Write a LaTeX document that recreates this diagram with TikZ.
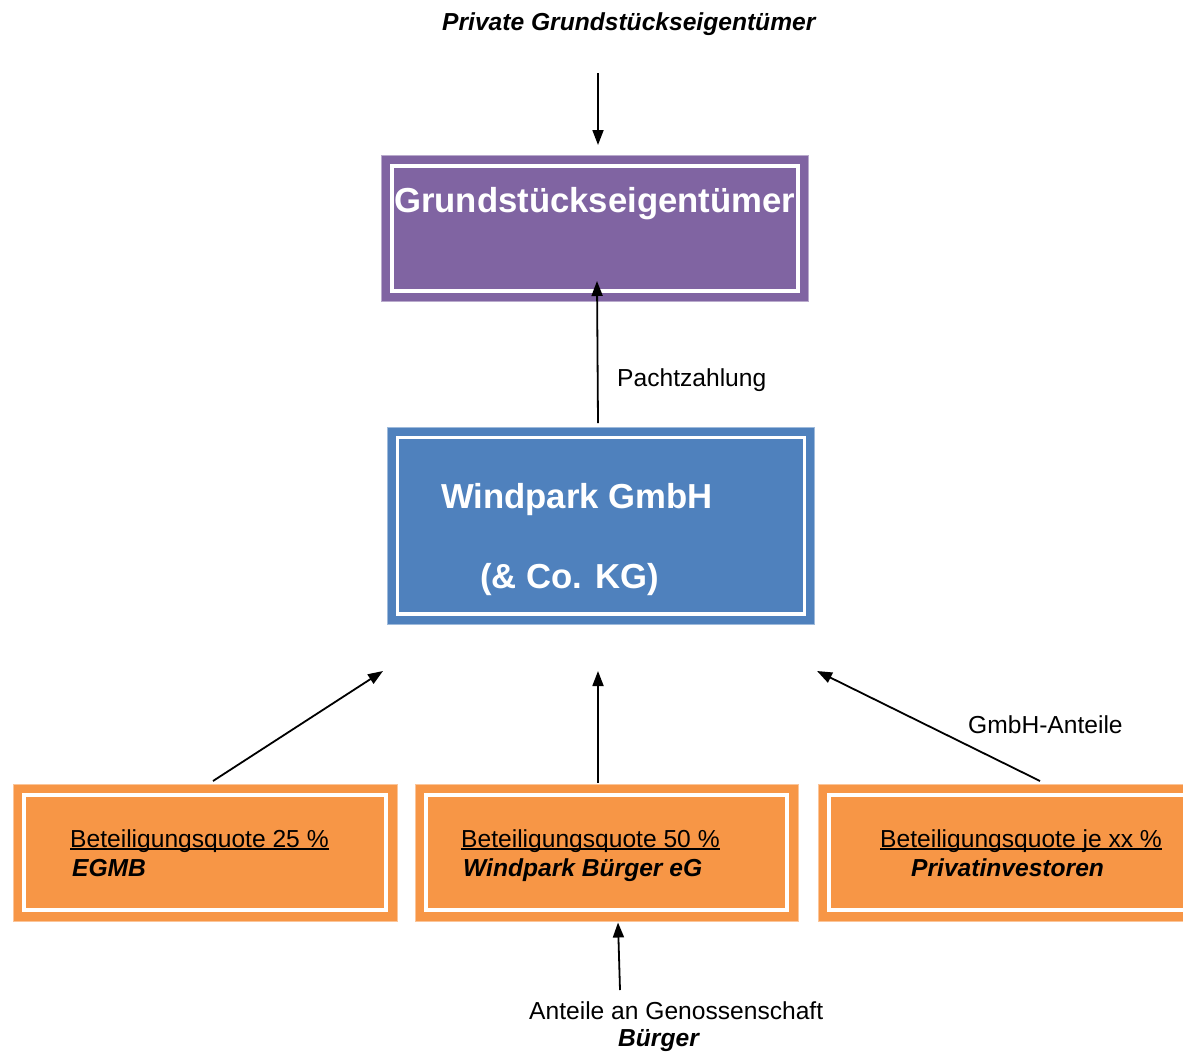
\documentclass[tikz,border=0pt]{standalone}
\usepackage{fontspec}
\setmainfont{Liberation Sans}
\usetikzlibrary{arrows.meta}
\definecolor{purp}{HTML}{8064A2}
\definecolor{blu}{HTML}{4F81BD}
\definecolor{ora}{HTML}{F79646}
\newcommand\myul[1]{\setbox0\hbox{#1}\rlap{\rule[-2.8pt]{\wd0}{1.5pt}}\box0}
\begin{document}
\begin{tikzpicture}[x=1pt,y=-1pt,
  outerbox/.style={draw=#1!55!white, line width=1pt, fill=#1, inner sep=0pt, outer sep=0pt},
  txt/.style={inner sep=0pt, anchor=base west, font=\fontsize{24.6}{28}\selectfont},
  bigtxt/.style={inner sep=0pt, anchor=base west, text=white, font=\fontsize{34.7}{40}\selectfont\bfseries},
  arr/.style={line width=1.8pt, -{Triangle[length=15pt,width=11pt]}},
  frame/.style={draw=white, line width=3.5pt}]
\useasboundingbox (0,0) rectangle (1183,1052);
\clip (0,0) rectangle (1183,1052);

% boxes
\node[outerbox=purp, minimum width=427pt, minimum height=146pt] (p) at (594.5,228) {};
\draw[frame] ([shift={(11,11)}]p.north west) rectangle ([shift={(-10,-10)}]p.south east);
\node[outerbox=blu, minimum width=427pt, minimum height=197pt] (b) at (600.5,525.5) {};
\draw[frame] ([shift={(10.5,10.5)}]b.north west) rectangle ([shift={(-9.5,-10)}]b.south east);
\node[outerbox=ora, minimum width=384pt, minimum height=137pt] (o1) at (205,852.5) {};
\draw[frame] ([shift={(11,11)}]o1.north west) rectangle ([shift={(-11,-11)}]o1.south east);
\node[outerbox=ora, minimum width=383pt, minimum height=137pt] (o2) at (606.5,852.5) {};
\draw[frame] ([shift={(11,11)}]o2.north west) rectangle ([shift={(-11,-11)}]o2.south east);
\node[outerbox=ora, minimum width=384pt, minimum height=137pt] (o3) at (1010,852.5) {};
\draw[frame] ([shift={(11,11)}]o3.north west) rectangle ([shift={(-11,-11)}]o3.south east);

% box texts
\node[bigtxt] (ptxt) at (394,212) {Grundstückseigentümer};
\node[bigtxt] (btxt1) at (441,508) {Windpark GmbH};
\node[bigtxt] (btxt2) at (480,588) {(\& Co. KG)};
\node[txt] (o1a) at (70,847) {\myul{Beteiligungsquote 25 \%}};
\node[txt] (o1b) at (72,876) {\bfseries\itshape EGMB};
\node[txt] (o2a) at (461,847) {\myul{Beteiligungsquote 50 \%}};
\node[txt] (o2b) at (463,876) {\bfseries\itshape Windpark Bürger eG};
\node[txt] (o3a) at (880,847) {\myul{Beteiligungsquote je xx \%}};
\node[txt] (o3b) at (911,876) {\bfseries\itshape Privatinvestoren};

% labels
\node[txt] (top) at (442,30) {\bfseries\itshape Private Grundstückseigentümer};
\node[txt] (pacht) at (617,386) {Pachtzahlung};
\node[txt] (gmbh) at (968,733) {GmbH-Anteile};
\node[txt] (ant) at (529,1019) {Anteile an Genossenschaft};
\node[txt] (buer) at (618,1046) {\bfseries\itshape Bürger};

% coordinates
\coordinate (topstart) at (598,73);
\coordinate (topend) at (598,145);
\coordinate (botstart) at (620,990);

% arrows
\draw[arr] (topstart) -- (topend);
\draw[arr] ([shift={(-2.5,-4)}]b.north) -- ([shift={(2.5,-20)}]p.south);
\draw[arr] ([shift={(8,-3)}]o1.north) -- ([shift={(-4,47)}]b.south west);
\draw[arr] ([shift={(-8.5,-1)}]o2.north) -- ([shift={(-2.5,47)}]b.south);
\draw[arr] ([shift={(30,-3)}]o3.north) -- ([shift={(3,47)}]b.south east);
\draw[arr] (botstart) -- ([shift={(11.5,1.5)}]o2.south);
\end{tikzpicture}
\end{document}
